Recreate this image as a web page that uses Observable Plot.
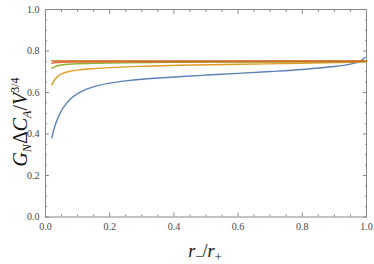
<!DOCTYPE html>
<html><head><meta charset="utf-8">
<script src="https://cdn.jsdelivr.net/npm/d3@7"></script>
<script src="https://cdn.jsdelivr.net/npm/@observablehq/plot@0.6"></script>
<style>body{margin:0;background:#fff}</style>
</head><body><div id="chart"></div>
<script>
const seriesNames = ["blue","orange","green","red","brown"];
const seriesColors = ["#5E81B5","#E19C24","#8FB032","#EB6235","#C56E1A"];
const blueX = [0.02,0.025,0.03,0.04,0.05,0.06,0.08,0.1,0.13,0.16,0.2,0.25,0.3,0.4,0.5,0.6,0.7,0.8,0.9,0.95,0.98,0.995];
const blueY = [0.382,0.415,0.442,0.482,0.513,0.537,0.572,0.595,0.617,0.632,0.645,0.656,0.664,0.675,0.684,0.692,0.701,0.711,0.725,0.737,0.750,0.770];
const orangeX = [0.02,0.025,0.03,0.04,0.05,0.07,0.1,0.15,0.2,0.3,0.42,0.6,0.8,0.95,1.0];
const orangeY = [0.636,0.652,0.664,0.680,0.690,0.700,0.708,0.715,0.720,0.726,0.731,0.736,0.741,0.745,0.748];
const greenX = [0.02,0.03,0.04,0.06,0.09,0.15,0.25,0.4,0.7,1.0];
const greenY = [0.717,0.725,0.730,0.735,0.738,0.741,0.743,0.745,0.747,0.749];
const redX = [0.02,0.03,0.05,0.1,0.3,0.6,1.0];
const redY = [0.741,0.744,0.746,0.747,0.748,0.749,0.750];
const brownX = [0.02,0.5,1.0];
const brownY = [0.752,0.752,0.752];
const xTicks = [0,0.2,0.4,0.6,0.8,1.0];
const yTicks = [0,0.2,0.4,0.6,0.8,1.0];

const allX = [blueX,orangeX,greenX,redX,brownX];
const allY = [blueY,orangeY,greenY,redY,brownY];
const data = [];
allX.forEach((xs,i)=>xs.forEach((x,j)=>data.push({s:seriesNames[i], c:seriesColors[i], x, y:allY[i][j]})));

const minorX = d3.range(0,1.0001,0.05).filter(v=>!xTicks.some(t=>Math.abs(t-v)<1e-6));
const minorY = d3.range(0,1.0001,0.05).filter(v=>!yTicks.some(t=>Math.abs(t-v)<1e-6));
const fmt = d3.format(".1f");
const axCol = "#888";

const plot = Plot.plot({
  width: 374, height: 264,
  marginLeft: 45, marginRight: 8, marginTop: 9, marginBottom: 47.5,
  style: {fontFamily: "Liberation Serif, DejaVu Serif, serif", fontSize: "10px", color: "#444", background: "#fff"},
  x: {domain: [0,1]},
  y: {domain: [0,1]},
  marks: [
    Plot.axisX(xTicks, {anchor:"bottom", tickSize:-4, tickPadding:10, tickFormat:fmt, stroke:axCol, label:null, fontSize:10}),
    Plot.axisX(minorX, {anchor:"bottom", tickSize:-2, text:null, stroke:axCol, label:null}),
    Plot.axisX(xTicks, {anchor:"top", tickSize:-4, text:null, stroke:axCol, label:null}),
    Plot.axisX(minorX, {anchor:"top", tickSize:-2, text:null, stroke:axCol, label:null}),
    Plot.axisY(yTicks, {anchor:"left", tickSize:-4, tickPadding:10, tickFormat:fmt, stroke:axCol, label:null, fontSize:10}),
    Plot.axisY(minorY, {anchor:"left", tickSize:-2, text:null, stroke:axCol, label:null}),
    Plot.axisY(yTicks, {anchor:"right", tickSize:-4, text:null, stroke:axCol, label:null}),
    Plot.axisY(minorY, {anchor:"right", tickSize:-2, text:null, stroke:axCol, label:null}),
    Plot.frame({stroke: axCol, strokeWidth: 1}),
    Plot.line(data, {x:"x", y:"y", z:"s", stroke:"c", strokeWidth:1.4, curve:"catmull-rom"})
  ]
});
document.getElementById("chart").appendChild(plot);

const svg = d3.select(plot);
const ff = "Liberation Serif, DejaVu Serif, serif";
const xl = svg.append("text").attr("x", 205).attr("y", 257).attr("text-anchor","middle")
  .attr("font-family", ff).attr("font-size", 18).attr("fill","#111");
xl.append("tspan").attr("font-style","italic").text("r");
xl.append("tspan").attr("font-size",13).attr("dy",4).text("−");
xl.append("tspan").attr("dy",-4).text("/");
xl.append("tspan").attr("font-style","italic").text("r");
xl.append("tspan").attr("font-size",13).attr("dy",4).text("+");

const yl = svg.append("text").attr("transform","translate(27,122) rotate(-90)").attr("text-anchor","middle")
  .attr("font-family", ff).attr("font-size", 20).attr("fill","#111");
yl.append("tspan").attr("font-style","italic").text("G");
yl.append("tspan").attr("font-style","italic").attr("font-size",12).attr("dy",4).text("N");
yl.append("tspan").attr("dy",-4).text("Δ");
yl.append("tspan").attr("font-style","italic").text("C");
yl.append("tspan").attr("font-style","italic").attr("font-size",12).attr("dy",4).text("A");
yl.append("tspan").attr("dy",-4).text("/");
yl.append("tspan").attr("font-style","italic").text("V");
yl.append("tspan").attr("font-size",12).attr("dy",-8).text("3/4");
</script>
</body></html>
